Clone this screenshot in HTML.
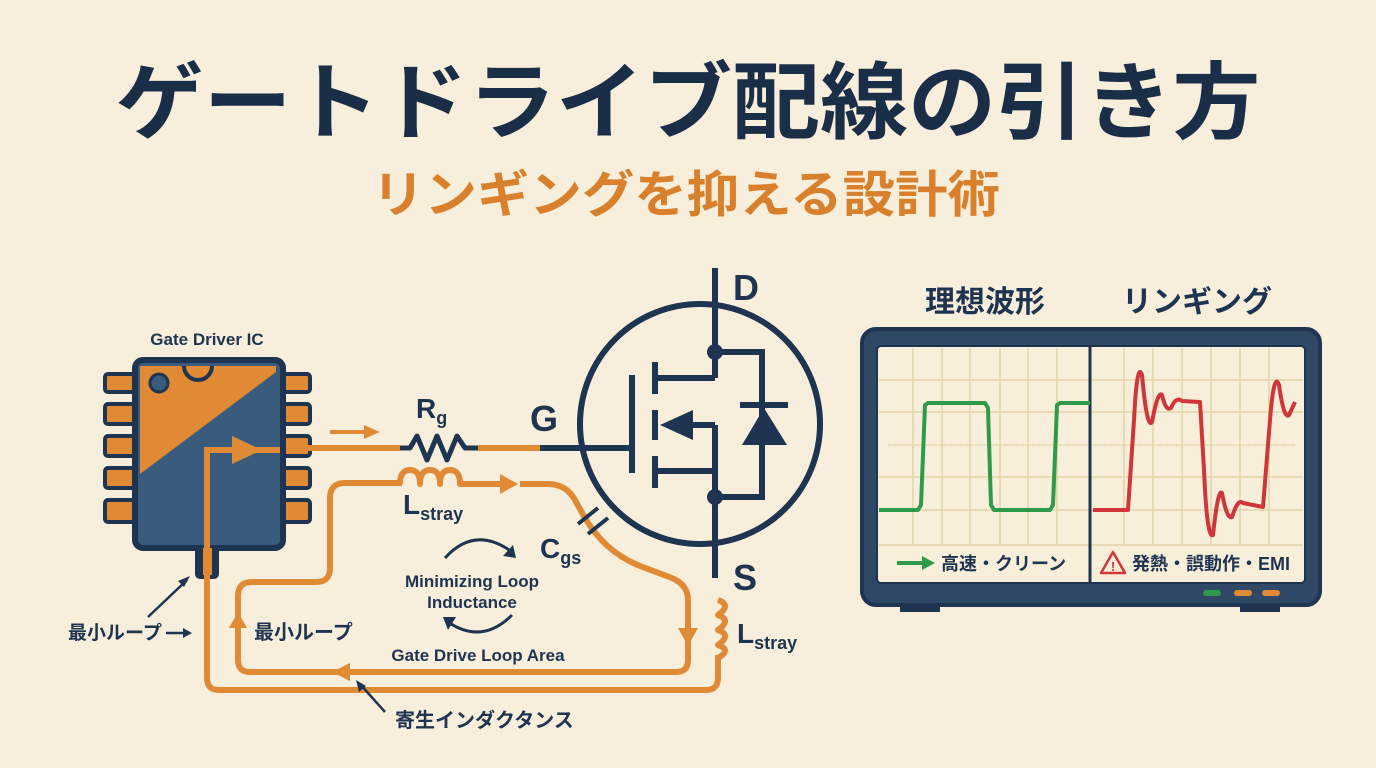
<!DOCTYPE html>
<html><head><meta charset="utf-8"><style>
html,body{margin:0;padding:0;background:#f7efdc;}
svg{display:block}
text{font-family:"Liberation Sans","Noto Sans CJK JP",sans-serif;}
</style></head><body>
<svg width="1376" height="768" viewBox="0 0 1376 768" xmlns="http://www.w3.org/2000/svg">
<rect width="1376" height="768" fill="#f7efdc"/>
<text x="688" y="132" text-anchor="middle" font-size="84" font-weight="bold" fill="#1b2e47" font-family="Noto Sans CJK JP, sans-serif" textLength="1145" lengthAdjust="spacingAndGlyphs">ゲートドライブ配線の引き方</text>
<text x="686" y="212" text-anchor="middle" font-size="50" font-weight="bold" fill="#d9802c" font-family="Noto Sans CJK JP, sans-serif" textLength="628" lengthAdjust="spacingAndGlyphs">リンギングを抑える設計術</text>

<!-- IC -->
<text x="207" y="345" text-anchor="middle" font-size="17" font-weight="bold" fill="#1e3450">Gate Driver IC</text>
<g fill="#e08a35" stroke="#1e3450" stroke-width="4">
<rect x="105" y="374" width="32" height="18" rx="3"/><rect x="105" y="404" width="32" height="20" rx="3"/><rect x="105" y="436" width="32" height="20" rx="3"/><rect x="105" y="468" width="32" height="20" rx="3"/><rect x="105" y="500" width="32" height="22" rx="3"/>
<rect x="280" y="374" width="30" height="18" rx="3"/><rect x="280" y="404" width="30" height="20" rx="3"/><rect x="280" y="436" width="30" height="20" rx="3"/><rect x="280" y="468" width="30" height="20" rx="3"/><rect x="280" y="500" width="30" height="22" rx="3"/>
<rect x="197" y="540" width="20" height="37" rx="3" fill="#1e3450"/>
</g>
<rect x="135" y="360" width="148" height="188" rx="8" fill="#3b5b7d" stroke="#1e3450" stroke-width="6"/>
<path d="M140 366 L276 366 L276 372 L140 474 Z" fill="#e08a35"/>
<path d="M184 366 A14 14 0 0 0 212 366" fill="#e08a35" stroke="#1e3450" stroke-width="4"/>
<circle cx="159" cy="383" r="9" fill="#3b5b7d" stroke="#1e3450" stroke-width="3"/>
<path d="M207 577 L207 450 L280 450" fill="none" stroke="#e08a35" stroke-width="6"/>
<path d="M232 436 L262 450 L232 464 Z" fill="#e08a35"/>
<rect x="203" y="548" width="9" height="27" fill="#e08a35"/>

<!-- gate path -->
<line x1="330" y1="432" x2="368" y2="432" stroke="#e08a35" stroke-width="4"/>
<path d="M364 425 L380 432 L364 439 Z" fill="#e08a35"/>
<text x="416" y="418" font-size="28" font-weight="bold" fill="#1e3450">R<tspan font-size="18" dy="6">g</tspan></text>
<line x1="308" y1="448" x2="400" y2="448" stroke="#e08a35" stroke-width="6"/>
<polyline points="400,448 410,448 417,436 427,460 437,436 447,460 457,436 465,448 478,448" fill="none" stroke="#1e3450" stroke-width="5" stroke-linejoin="round"/>
<line x1="478" y1="448" x2="540" y2="448" stroke="#e08a35" stroke-width="6"/>
<line x1="540" y1="448" x2="632" y2="448" stroke="#1e3450" stroke-width="6"/>
<text x="530" y="431" font-size="36" font-weight="bold" fill="#1e3450">G</text>

<!-- inner loop -->
<g fill="none" stroke="#e08a35" stroke-width="6" stroke-linejoin="round">
<path d="M402 483 L345 483 Q330 483 330 498 L330 568 Q330 582 316 582 L252 582 Q238 582 238 596 L238 660 Q238 672 250 672 L676 672 Q688 672 688 660 L688 600 Q688 585 672 578 L640 566 Q605 552 585 518 L575 500 Q566 484 548 484 L520 484"/>
<path d="M400 484 Q400 470 410 470 Q420 470 420 484 Q420 470 430 470 Q440 470 440 484 Q440 470 450 470 Q460 470 460 484 L502 484"/>
<path d="M207 577 L207 678 Q207 690 219 690 L706 690 Q718 690 718 678 L718 655"/>
<path d="M718 600 Q732 605 718 615 Q732 620 718 630 Q732 635 718 645 Q732 650 718 658"/>
</g>
<path d="M500 474 L518 484 L500 494 Z" fill="#e08a35"/>
<path d="M678 628 L688 646 L698 628 Z" fill="#e08a35"/>
<path d="M350 663 L332 672 L350 681 Z" fill="#e08a35"/>
<path d="M229 628 L238 612 L247 628 Z" fill="#e08a35"/>
<text x="403" y="514" font-size="28" font-weight="bold" fill="#1e3450">L<tspan font-size="18" dy="6">stray</tspan></text>
<line x1="578" y1="524" x2="598" y2="508" stroke="#1e3450" stroke-width="4"/>
<line x1="588" y1="534" x2="608" y2="518" stroke="#1e3450" stroke-width="4"/>
<text x="540" y="558" font-size="28" font-weight="bold" fill="#1e3450">C<tspan font-size="18" dy="6">gs</tspan></text>

<!-- MOSFET -->
<g fill="none" stroke="#1e3450" stroke-width="6">
<circle cx="700" cy="424" r="120"/>
<line x1="715" y1="268" x2="715" y2="378"/>
<polyline points="715,378 657,378"/>
<polyline points="715,352 762,352 762,497 715,497"/>
<line x1="715" y1="425" x2="715" y2="578"/>
<polyline points="715,425 690,425"/>
<polyline points="657,471 715,471"/>
<line x1="632" y1="375" x2="632" y2="473"/>
<line x1="655" y1="362" x2="655" y2="394"/>
<line x1="655" y1="410" x2="655" y2="440"/>
<line x1="655" y1="456" x2="655" y2="488"/>
<line x1="740" y1="405" x2="788" y2="405"/>
</g>
<path d="M660 425 L693 410 L693 440 Z" fill="#1e3450"/>
<path d="M742 445 L787 445 L764 408 Z" fill="#1e3450"/>
<circle cx="715" cy="352" r="8" fill="#1e3450"/>
<circle cx="715" cy="497" r="8" fill="#1e3450"/>
<text x="733" y="300" font-size="36" font-weight="bold" fill="#1e3450">D</text>
<text x="733" y="590" font-size="36" font-weight="bold" fill="#1e3450">S</text>
<text x="737" y="643" font-size="28" font-weight="bold" fill="#1e3450">L<tspan font-size="18" dy="6">stray</tspan></text>

<!-- center texts -->
<path d="M445 558 Q475 525 512 552" fill="none" stroke="#1e3450" stroke-width="3"/>
<path d="M503 556 L516 558 L513 545 Z" fill="#1e3450"/>
<path d="M512 615 Q482 645 448 622" fill="none" stroke="#1e3450" stroke-width="3"/>
<path d="M456 617 L443 617 L448 630 Z" fill="#1e3450"/>
<text x="472" y="587" text-anchor="middle" font-size="17" font-weight="bold" fill="#1e3450">Minimizing Loop</text>
<text x="472" y="608" text-anchor="middle" font-size="17" font-weight="bold" fill="#1e3450">Inductance</text>
<text x="478" y="661" text-anchor="middle" font-size="17" font-weight="bold" fill="#1e3450">Gate Drive Loop Area</text>
<text x="254" y="639" font-size="20" font-weight="bold" fill="#1e3450">最小ループ</text>
<text x="68" y="639" font-size="19" font-weight="bold" fill="#1e3450">最小ループ</text>
<line x1="166" y1="633" x2="186" y2="633" stroke="#1e3450" stroke-width="2.5"/>
<path d="M192 633 L183 628 L183 638 Z" fill="#1e3450"/>
<line x1="148" y1="617" x2="187" y2="580" stroke="#1e3450" stroke-width="2.5"/>
<path d="M190 576 L178 581 L184 587 Z" fill="#1e3450"/>
<text x="395" y="727" font-size="20" font-weight="bold" fill="#1e3450">寄生インダクタンス</text>
<line x1="385" y1="712" x2="360" y2="684" stroke="#1e3450" stroke-width="2.5"/>
<path d="M356 680 L359 692 L366 686 Z" fill="#1e3450"/>

<!-- monitor -->
<text x="985" y="312" text-anchor="middle" font-size="30" font-weight="bold" fill="#1e3450">理想波形</text>
<text x="1197" y="312" text-anchor="middle" font-size="30" font-weight="bold" fill="#1e3450">リンギング</text>
<rect x="862" y="329" width="458" height="276" rx="14" fill="#2f4866" stroke="#1e3450" stroke-width="4"/>
<rect x="900" y="604" width="40" height="8" fill="#1e3450"/><rect x="1240" y="604" width="40" height="8" fill="#1e3450"/>
<rect x="877" y="346" width="428" height="237" rx="4" fill="#f7efd9" stroke="#1e3450" stroke-width="2"/>
<g stroke="#e3d3a8" stroke-width="1.5">
<line x1="913" y1="348" x2="913" y2="545"/><line x1="942" y1="348" x2="942" y2="545"/><line x1="970" y1="348" x2="970" y2="545"/><line x1="1000" y1="348" x2="1000" y2="545"/><line x1="1028" y1="348" x2="1028" y2="545"/><line x1="1057" y1="348" x2="1057" y2="545"/>
<line x1="1124" y1="348" x2="1124" y2="545"/><line x1="1153" y1="348" x2="1153" y2="545"/><line x1="1182" y1="348" x2="1182" y2="545"/><line x1="1211" y1="348" x2="1211" y2="545"/><line x1="1240" y1="348" x2="1240" y2="545"/><line x1="1269" y1="348" x2="1269" y2="545"/>
<line x1="879" y1="380" x2="1303" y2="380"/><line x1="879" y1="412" x2="1303" y2="412"/><line x1="879" y1="477" x2="1303" y2="477"/><line x1="879" y1="510" x2="1303" y2="510"/><line x1="879" y1="545" x2="1303" y2="545"/>
</g>
<line x1="888" y1="445" x2="1295" y2="445" stroke="#d8c596" stroke-width="1.5" stroke-dasharray="1 8"/>
<line x1="888" y1="445" x2="1295" y2="445" stroke="#e3d3a8" stroke-width="1"/>
<line x1="1090" y1="346" x2="1090" y2="583" stroke="#1e3450" stroke-width="3"/>
<polyline points="879,510 918,510 921,505 925,405 928,403 985,403 988,408 991,505 994,510 1050,510 1053,505 1057,405 1060,403 1090,403" fill="none" stroke="#2e9a4a" stroke-width="4" stroke-linejoin="round"/>
<path d="M1093 510 L1128 510 L1134 420 Q1137 360 1142 375 Q1147 430 1152 422 Q1158 390 1162 395 Q1166 412 1171 408 Q1176 396 1182 401 L1200 402 L1204 470 Q1207 540 1213 535 Q1218 488 1222 493 Q1227 520 1232 517 Q1238 498 1243 503 L1263 507 L1270 420 Q1274 370 1279 385 Q1284 420 1289 415 L1295 402" fill="none" stroke="#d0353a" stroke-width="4" stroke-linejoin="round"/>
<line x1="897" y1="563" x2="925" y2="563" stroke="#2e9a4a" stroke-width="4"/>
<path d="M922 556 L935 563 L922 570 Z" fill="#2e9a4a"/>
<text x="941" y="570" font-size="18" font-weight="bold" fill="#1e3450">高速・クリーン</text>
<path d="M1113 552 L1101 573 L1125 573 Z" fill="none" stroke="#d0353a" stroke-width="2.5" stroke-linejoin="round"/>
<text x="1113" y="571" text-anchor="middle" font-size="13" font-weight="bold" fill="#d0353a">!</text>
<text x="1132" y="570" font-size="18" font-weight="bold" fill="#1e3450">発熱・誤動作・EMI</text>
<rect x="1203" y="590" width="18" height="6" rx="3" fill="#2e9a4a"/>
<rect x="1234" y="590" width="18" height="6" rx="3" fill="#e08a35"/>
<rect x="1262" y="590" width="18" height="6" rx="3" fill="#e08a35"/>
</svg>
</body></html>
